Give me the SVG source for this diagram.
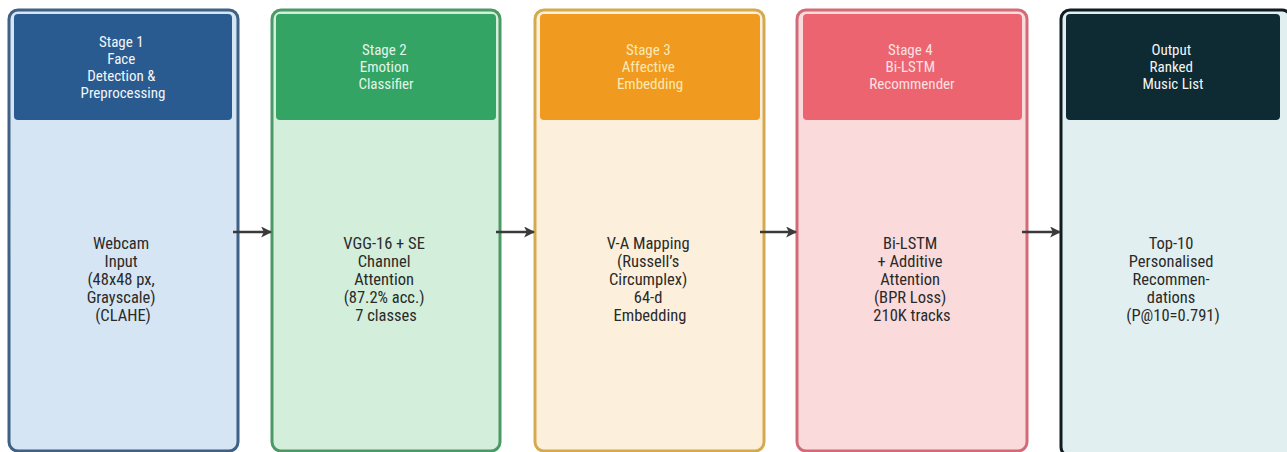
<svg xmlns="http://www.w3.org/2000/svg" width="1287" height="452" viewBox="0 0 1287 452">
  <defs>
    <marker id="arrow" viewBox="0 0 10 10" refX="9" refY="5" markerWidth="4.4" markerHeight="4.4" orient="auto" markerUnits="strokeWidth">
      <path d="M0,0 L10,5 L0,10 L2.5,5 Z" fill="#3a3a3a"/>
    </marker>
    <style>
      .frame { stroke-width: 3; }
      .head-text { font-family: "Liberation Sans Narrow", "Roboto Condensed", "Liberation Sans", sans-serif; font-size: 15px; text-anchor: middle; }
      .body-text { font-family: "Liberation Sans Narrow", "Roboto Condensed", "Liberation Sans", sans-serif; font-size: 16.5px; text-anchor: middle; fill: #2a2a2a; }
      .link { stroke: #3a3a3a; stroke-width: 2.5; fill: none; marker-end: url(#arrow); }
    </style>
  </defs>
  <rect width="1287" height="452" fill="#ffffff"/>

  <!-- Stage 1 -->
  <g id="stage1">
    <rect class="frame" x="9" y="10" width="229" height="441" rx="9" fill="#d5e5f3" stroke="#3f6185"/>
    <rect x="14" y="14" width="218" height="106" rx="4" fill="#2a5b90"/>
    <text class="head-text" fill="#f2f6fa" x="123" y="47">
      <tspan x="123">Stage 1</tspan>
      <tspan x="123" dy="17">Face</tspan>
      <tspan x="123" dy="17">Detection &amp;</tspan>
      <tspan x="123" dy="17">Preprocessing</tspan>
    </text>
    <text class="body-text" x="123" y="249">
      <tspan x="123">Webcam</tspan>
      <tspan x="123" dy="18">Input</tspan>
      <tspan x="123" dy="18">(48x48 px,</tspan>
      <tspan x="123" dy="18">Grayscale)</tspan>
      <tspan x="123" dy="18">(CLAHE)</tspan>
    </text>
  </g>

  <!-- Stage 2 -->
  <g id="stage2">
    <rect class="frame" x="272" y="10" width="228" height="441" rx="9" fill="#d3eeda" stroke="#4b9a66"/>
    <rect x="276" y="14" width="220" height="106" rx="4" fill="#33a463"/>
    <text class="head-text" fill="#e3f5e8" x="386" y="55">
      <tspan x="386">Stage 2</tspan>
      <tspan x="386" dy="17">Emotion</tspan>
      <tspan x="386" dy="17">Classifier</tspan>
    </text>
    <text class="body-text" x="386" y="249">
      <tspan x="386">VGG-16 + SE</tspan>
      <tspan x="386" dy="18">Channel</tspan>
      <tspan x="386" dy="18">Attention</tspan>
      <tspan x="386" dy="18">(87.2% acc.)</tspan>
      <tspan x="386" dy="18">7 classes</tspan>
    </text>
  </g>

  <!-- Stage 3 -->
  <g id="stage3">
    <rect class="frame" x="535" y="10" width="229" height="441" rx="9" fill="#fcf0dc" stroke="#d5aa4e"/>
    <rect x="540" y="14" width="220" height="106" rx="4" fill="#f09a1f"/>
    <text class="head-text" fill="#fbe9b4" x="650" y="55">
      <tspan x="650">Stage 3</tspan>
      <tspan x="650" dy="17">Affective</tspan>
      <tspan x="650" dy="17">Embedding</tspan>
    </text>
    <text class="body-text" x="650" y="249">
      <tspan x="650">V-A Mapping</tspan>
      <tspan x="650" dy="18">(Russell’s</tspan>
      <tspan x="650" dy="18">Circumplex)</tspan>
      <tspan x="650" dy="18">64-d</tspan>
      <tspan x="650" dy="18">Embedding</tspan>
    </text>
  </g>

  <!-- Stage 4 -->
  <g id="stage4">
    <rect class="frame" x="797" y="10" width="230" height="441" rx="9" fill="#fadada" stroke="#d36b77"/>
    <rect x="803" y="14" width="219" height="106" rx="4" fill="#ec6470"/>
    <text class="head-text" fill="#fbe1e3" x="912" y="55">
      <tspan x="912">Stage 4</tspan>
      <tspan x="912" dy="17">Bi-LSTM</tspan>
      <tspan x="912" dy="17">Recommender</tspan>
    </text>
    <text class="body-text" x="912" y="249">
      <tspan x="912">Bi-LSTM</tspan>
      <tspan x="912" dy="18">+ Additive</tspan>
      <tspan x="912" dy="18">Attention</tspan>
      <tspan x="912" dy="18">(BPR Loss)</tspan>
      <tspan x="912" dy="18">210K tracks</tspan>
    </text>
  </g>

  <!-- Output -->
  <g id="output">
    <rect class="frame" x="1061" y="10" width="230" height="446" rx="9" fill="#e2eff0" stroke="#0f1d23"/>
    <rect x="1066" y="14" width="214" height="106" rx="4" fill="#0e2a33"/>
    <text class="head-text" fill="#f3f6f6" x="1173" y="55">
      <tspan x="1173">Output</tspan>
      <tspan x="1173" dy="17">Ranked</tspan>
      <tspan x="1173" dy="17">Music List</tspan>
    </text>
    <text class="body-text" x="1173" y="249">
      <tspan x="1173">Top-10</tspan>
      <tspan x="1173" dy="18">Personalised</tspan>
      <tspan x="1173" dy="18">Recommen-</tspan>
      <tspan x="1173" dy="18">dations</tspan>
      <tspan x="1173" dy="18">(P@10=0.791)</tspan>
    </text>
  </g>

  <!-- Connectors -->
  <g id="connectors">
    <line class="link" x1="233" y1="232" x2="271" y2="232"/>
    <line class="link" x1="496" y1="232" x2="534" y2="232"/>
    <line class="link" x1="760" y1="232" x2="796" y2="232"/>
    <line class="link" x1="1022" y1="232" x2="1060" y2="232"/>
  </g>
</svg>
